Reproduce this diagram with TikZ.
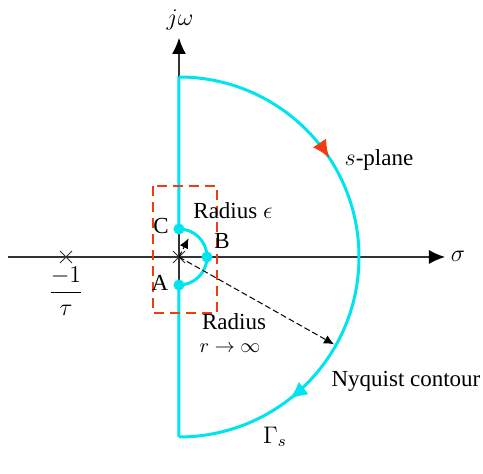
\documentclass[tikz,border=0pt]{standalone}
\usepackage{fontspec}
\setmainfont{Liberation Serif}
\usepackage{amsmath}
\usetikzlibrary{arrows.meta, decorations.markings}
\definecolor{contourcyan}{RGB}{0,228,240}
\definecolor{boxred}{RGB}{240,60,20}

\begin{document}
\begin{tikzpicture}[
    x=0.5pt, y=0.5pt, >={Latex[black,length=8pt,width=7pt]},
    axis/.style={draw=black!80, line width=0.6pt},
    contour/.style={draw=contourcyan, line width=1.5pt},
    pt/.style={fill=contourcyan, circle, inner sep=0pt, minimum size=5.5pt},
    lbl/.style={font=\fontsize{11.5}{13}\selectfont, inner sep=1pt},
    radline/.style={dashed, dash pattern=on 3pt off 1.5pt, line width=0.5pt, -{Latex[length=5pt,width=4.5pt]}},
]
    \useasboundingbox (-179,-217) rectangle (304,257);
    % axes
    \coordinate (O) at (0,0);
    \draw[axis, ->] (-171,0) -- (266,0);
    \draw[axis, ->] (0,-180) -- (0,219);
    \node[lbl] (sigma) at (279,1) {$\sigma$};
    \node[lbl] (jw) at (1,237) {$j\omega$};
    % crosses
    \foreach \cx/\nm in {0/p0, -113/p1} {
        \coordinate (\nm) at (\cx,0);
        \draw[black!80, line width=0.5pt] (\cx-6,-6) -- (\cx+6,6) (\cx-6,6) -- (\cx+6,-6);
    }
    \node[lbl] (tau) at (-113,-34) {$\displaystyle\frac{-1}{\tau}$};
    % contour (radii 28 and 180 units, 1 unit = 0.5pt)
    \draw[contour] (0,-180) -- (0,-28) arc[start angle=-90, end angle=90, radius=14pt] -- (0,180);
    \draw[contour, postaction={decorate}, decoration={markings,
        mark=at position 0.315 with {\arrow{Latex[boxred,length=9pt,width=8pt]}},
        mark=at position 0.79 with {\arrow{Latex[contourcyan,length=9pt,width=8pt]}}}]
        (0,180) arc[start angle=90, end angle=-90, radius=90pt];
    \foreach \px/\py/\nm in {0/28/C, 28/0/B, 0/-28/A}
        \node[pt] (\nm) at (\px,\py) {};
    % zoom box
    \draw[boxred, line width=1pt, dash pattern=on 5pt off 3pt] (-26,71) rectangle (38,-56);
    % radii
    \coordinate (eps) at (63:21);
    \coordinate (inf) at (-29.4:178);
    \draw[radline] (O) -- (eps);
    \draw[radline] (O) -- (inf);
    % labels
    \node[lbl] (lC) at (-18,31) {C};
    \node[lbl] (lB) at (43,16) {B};
    \node[lbl] (lA) at (-19,-26) {A};
    \node[lbl] (leps) at (54,46) {Radius $\epsilon$};
    \node[lbl] (lrad) at (55,-65) {Radius};
    \node[lbl, font=\fontsize{10}{12}\selectfont] (linf) at (51,-91) {$r\rightarrow\infty$};
    \node[lbl] (splane) at (200,97) {$s$-plane};
    \node[lbl] (nyq) at (227,-124) {Nyquist contour};
    \node[lbl] (gam) at (96,-180) {$\Gamma_s$};
\end{tikzpicture}
\end{document}
